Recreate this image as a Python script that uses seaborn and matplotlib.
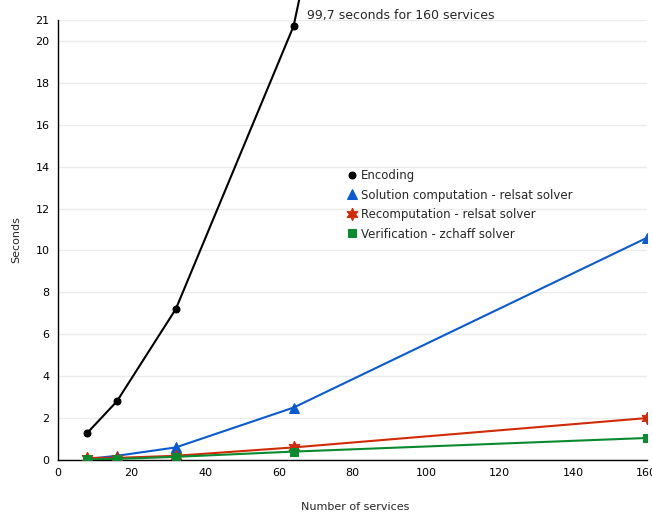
import seaborn as sns
import matplotlib.pyplot as plt
import pandas as pd

services = [8, 16, 32, 64, 160]
encoding = [1.3, 2.8, 7.2, 20.7, 99.7]
solution = [0.05, 0.2, 0.6, 2.5, 10.6]
recomputation = [0.1, 0.1, 0.2, 0.6, 2.0]
verification = [0.03, 0.05, 0.15, 0.4, 1.05]

labels = [
    "Encoding",
    "Solution computation - relsat solver",
    "Recomputation - relsat solver",
    "Verification - zchaff solver",
]
series = [encoding, solution, recomputation, verification]
colors = ["#000000", "#0a5ad2", "#d12a06", "#0a8a2e"]
markers = ["o", "^", (6, 1, 0), "s"]
sizes = [5, 7, 9, 6]

sns.set_style("white")
plt.rcParams["font.family"] = ["DejaVu Sans"]

fig = plt.figure(figsize=(6.52, 5.12), dpi=100)
ax = fig.add_axes([0.089, 0.1016, 0.903, 0.8594])

for i, (lab, vals, c, m, ms) in enumerate(zip(labels, series, colors, markers, sizes)):
    df = pd.DataFrame({"x": services, "y": vals})
    sns.lineplot(data=df, x="x", y="y", ax=ax, color=c, marker=m, markersize=ms,
                 markeredgecolor=c, linewidth=1.5, label=lab, zorder=3)
    if i == 0:
        # the encoding curve runs past the top of the axes
        ax.lines[-1].set_clip_on(False)

ax.set_xlim(0, 160)
ax.set_ylim(0, 21)
ax.set_xticks(range(0, 161, 20))
ax.set_yticks(list(range(0, 21, 2)) + [21])
ax.yaxis.grid(True, color="#ebebeb", linewidth=1)
ax.set_axisbelow(True)
for s in ["top", "right"]:
    ax.spines[s].set_visible(False)
for s in ["left", "bottom"]:
    ax.spines[s].set_color("black")
    ax.spines[s].set_linewidth(1)
ax.tick_params(axis="both", direction="inout", length=5, width=1, labelsize=8, colors="black")

ax.set_xlabel("Number of services", fontsize=8)
ax.xaxis.set_label_coords(0.504, -0.095)
ax.set_ylabel("Seconds", fontsize=8)
ax.yaxis.set_label_coords(-0.062, 0.5)

ax.text(67.7, 21.2, "99,7 seconds for 160 services", fontsize=9, va="center", ha="left")

leg = ax.legend(loc="upper left", bbox_to_anchor=(0.494, 0.661), frameon=False, fontsize=8.5,
                handlelength=0.6, handletextpad=0.4, labelspacing=0.55,
                borderaxespad=0, borderpad=0)
for h in leg.legend_handles:
    h.set_linestyle("None")

fig.savefig("out.png", dpi=100)
